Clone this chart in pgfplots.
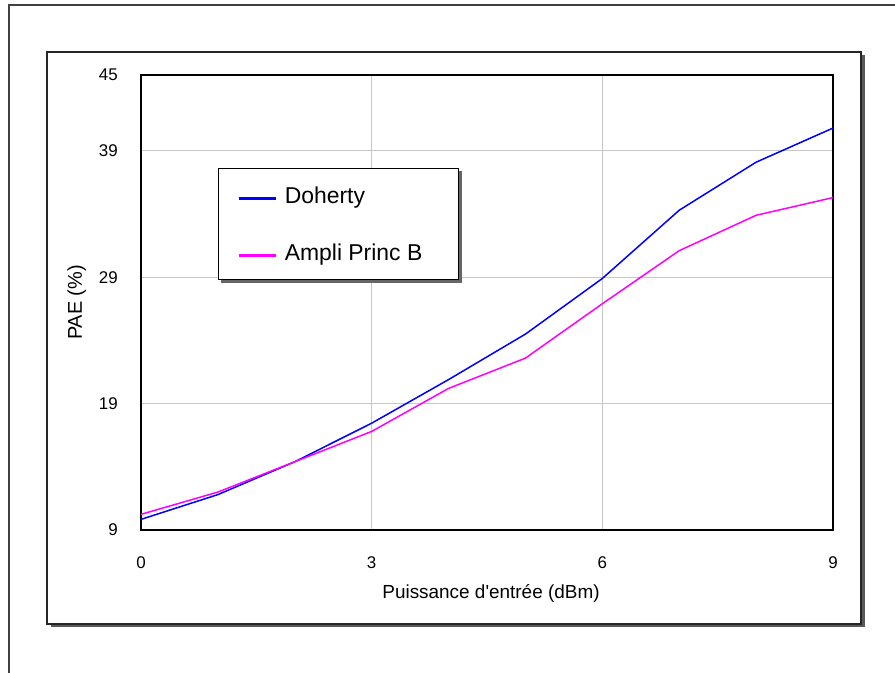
\documentclass[border=0pt]{standalone}
\usepackage{fontspec}
\setmainfont{Liberation Sans}[Ligatures=TeXOff]
\usepackage{pgfplots}
\pgfplotsset{compat=1.18}
\definecolor{dblue}{RGB}{0,0,255}
\definecolor{dmag}{RGB}{255,0,255}
\begin{document}
\begin{tikzpicture}[x=1bp,y=1bp]
\path[use as bounding box] (0,0) rectangle (895,673);
\draw[black!75, line width=1.5bp] (9,-5) -- (9,668) -- (900,668);
\fill[black!65] (50.5,45.5) rectangle (864.5,617.5);
\filldraw[fill=white, draw=black!85, line width=1.3bp] (47,49) rectangle (861,621);
\begin{axis}[
  at={(141bp,143bp)}, anchor=south west,
  scale only axis, width=692bp, height=455bp,
  xmin=0, xmax=9, ymin=9, ymax=45,
  xtick={0,3,6,9}, ytick={9,19,29,39,45},
  grid=major, major grid style={draw=black!22, line width=1.2bp},
  axis line style={line width=1.5bp, black},
  tick style={draw=none}, major tick length=0pt,
  ticklabel style={font=\fontsize{17}{20}\selectfont},
  /pgf/number format/assume math mode=true,
  yticklabel style={anchor=east, inner sep=0pt, xshift=-23bp},
  xticklabel style={anchor=north, inner sep=0pt, yshift=-26bp},
  xlabel={Puissance d'entrée (dBm)},
  xlabel style={at={(axis description cs:0.5058,-0.1495)}, anchor=base, font=\fontsize{19}{22}\selectfont, inner sep=0pt},
  ylabel={PAE (\%)},
  ylabel style={at={(axis description cs:-0.0853,0.5)}, anchor=base, font=\fontsize{20}{24}\selectfont, inner sep=0pt},
  legend image code/.code={\draw[#1, line width=2.2bp] (0bp,5bp) -- (37bp,5bp);},
  legend style={at={(axis description cs:0.1113,0.7956)}, anchor=north west,
    draw=black, line width=1.2bp, fill=white,
    inner xsep=19bp, inner ysep=16bp, row sep=35bp, column sep=8bp,
    font=\fontsize{23}{26}\selectfont,
    cells={anchor=base west},
    nodes={inner sep=0pt, text height=19bp, text depth=3bp}},
]
\fill[black!60] (rel axis cs:0.1163,0.5439) rectangle (rel axis cs:0.4632,0.7879);
\addplot[dblue, line width=1.5bp] coordinates {
(0,9.84) (1,11.8) (2,14.4) (3,17.45) (4,20.9) (5,24.5) (6,28.9) (7,34.3) (8,38.1) (9,40.8)};
\addlegendentry{\makebox[155bp][l]{Doherty}}
\addplot[dmag, line width=1.5bp] coordinates {
(0,10.24) (1,12.0) (2,14.4) (3,16.8) (4,20.2) (5,22.6) (6,26.9) (7,31.1) (8,33.9) (9,35.3)};
\addlegendentry{\makebox[155bp][l]{Ampli Princ B}}
\end{axis}
\end{tikzpicture}
\end{document}
